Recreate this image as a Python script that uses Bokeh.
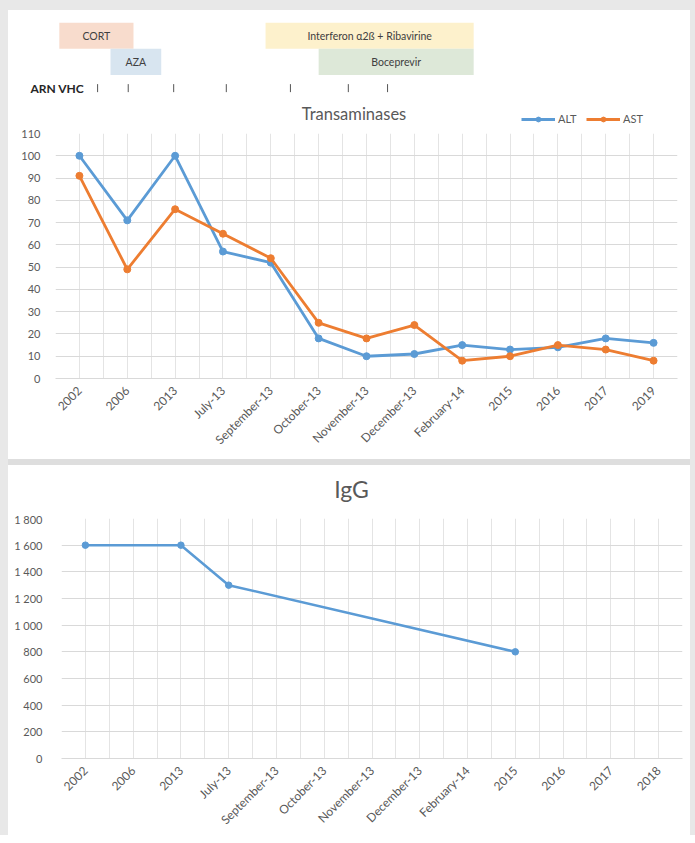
import math
from bokeh.plotting import figure
from bokeh.models import (Range1d, FactorRange, FixedTicker, Legend, Div)
from bokeh.layouts import column, row
from bokeh.core.properties import value
from bokeh.embed import file_html
from bokeh.resources import INLINE

# ---------------- data ----------------
categories_top = ["2002", "2006", "2013", "July-13", "September-13", "October-13",
                  "November-13", "December-13", "February-14", "2015", "2016", "2017", "2019"]
alt_values = [100, 71, 100, 57, 52, 18, 10, 11, 15, 13, 14, 18, 16]
ast_values = [91, 49, 76, 65, 54, 25, 18, 24, 8, 10, 15, 13, 8]
series_names = ["ALT", "AST"]

categories_igg = ["2002", "2006", "2013", "July-13", "September-13", "October-13",
                  "November-13", "December-13", "February-14", "2015", "2016", "2017", "2018"]
igg_values = [1600, None, 1600, 1300, None, None, None, None, None, 800, None, None, None]

# treatments timeline (in category-index units of the transaminase axis)
treatments = ["CORT", "AZA", "Interferon α2ß + Ribavirine", "Boceprevir"]
treat_start = [-0.42, 0.65, 3.89, 5.0]
treat_end = [1.13, 1.71, 8.24, 8.24]
treat_lane = ["row1", "row2", "row1", "row2"]
arn_vhc_times = [0.38, 1.02, 1.97, 3.07, 4.41, 5.62, 6.44]

top_ticks = list(range(0, 111, 10))
igg_ticks = list(range(0, 1801, 200))

# ---------------- styles ----------------
FONT = "Lato"
BLUE = "#5B9BD5"
ORANGE = "#ED7D31"
GRAY_TXT = "#595959"
PAGE_GRAY = "#E8E8E8"
treat_colors = ["#F8DCCD", "#D8E5F0", "#FDF1CC", "#DDE8D8"]

W = 682
BL, BR = 47, 13
n = len(categories_top)
px_per = (W - BL - BR) / n
x0 = -0.5 - BL / px_per
x1 = n - 0.5 + BR / px_per
NAN = float("nan")


def no_align(f):
    if "frame_align" in f.properties():
        f.frame_align = False


# ---------------- header (treatments + chart title + legend) ----------------
h = figure(width=W, height=117, output_backend="svg", toolbar_location=None,
           x_range=Range1d(x0, x1),
           y_range=FactorRange(factors=["title", "ARN", "row2", "row1"], range_padding=0),
           x_axis_location=None, y_axis_location=None,
           min_border_left=0, min_border_right=0, min_border_top=12, min_border_bottom=0)
no_align(h)
h.grid.visible = False
h.outline_line_color = None
h.hbar(y=treat_lane, left=treat_start, right=treat_end, height=1.0,
       fill_color=treat_colors, line_color=None)
mids = [(a + b) / 2 for a, b in zip(treat_start, treat_end)]
h.text(x=mids, y=treat_lane, text=treatments, text_align="center", text_baseline="middle",
       text_font=value(FONT), text_font_size="10.5px", text_color="#404040")
h.text(x=[x0 + 22 / px_per], y=["ARN"], text=["ARN VHC"],
       text_align="left", text_baseline="middle", text_font=value(FONT),
       text_font_size="12px", text_font_style="bold", text_color="#262626")
h.scatter(x=arn_vhc_times, y=["ARN"] * len(arn_vhc_times), marker="dash",
          angle=math.pi / 2, size=8, line_color="#555555", line_width=1)
h.text(x=[x0 + 345.5 / px_per], y=["title"], text=["Transaminases"],
       text_align="center", text_baseline="middle", text_font=value(FONT),
       text_font_size="16.5px", text_color=GRAY_TXT)
# legend proxies (not drawn: NaN position, same styling as chart series)
lg1 = h.line([NAN], ["title"], line_color=BLUE, line_width=2.8)
sg1 = h.scatter([NAN], ["title"], size=7, fill_color=BLUE, line_color=BLUE)
lg2 = h.line([NAN], ["title"], line_color=ORANGE, line_width=2.8)
sg2 = h.scatter([NAN], ["title"], size=7, fill_color=ORANGE, line_color=ORANGE)
legend = Legend(items=[(series_names[0], [lg1, sg1]), (series_names[1], [lg2, sg2])],
                orientation="horizontal", location=(513, 2),
                border_line_color=None, background_fill_alpha=0,
                label_text_font=FONT, label_text_font_size="11px", label_text_color=GRAY_TXT,
                glyph_width=34, glyph_height=12, spacing=8, padding=2, margin=0,
                label_standoff=3)
h.add_layout(legend)


# ---------------- axes styling ----------------
def style_axes(p, cats, yticks, ylabels=None):
    p.outline_line_color = None
    xt = FixedTicker(ticks=list(range(len(cats))),
                     minor_ticks=[i - 0.5 for i in range(len(cats) + 1)])
    p.xaxis.ticker = xt
    p.xaxis.major_label_overrides = {i: c for i, c in enumerate(cats)}
    p.xaxis.major_label_orientation = math.pi / 4
    p.xaxis.major_tick_line_color = None
    p.xaxis.minor_tick_line_color = None
    p.xaxis.axis_line_color = "#D9D9D9"
    p.xaxis.major_label_standoff = 4
    p.xaxis.major_label_text_font = FONT
    p.xaxis.major_label_text_font_size = "12px"
    p.xaxis.major_label_text_color = GRAY_TXT
    p.yaxis.ticker = FixedTicker(ticks=yticks)
    if ylabels:
        p.yaxis.major_label_overrides = ylabels
    p.yaxis.axis_line_color = None
    p.yaxis.major_tick_line_color = None
    p.yaxis.minor_tick_line_color = None
    p.yaxis.major_label_standoff = 9
    p.yaxis.major_label_text_font = FONT
    p.yaxis.major_label_text_font_size = "11px"
    p.yaxis.major_label_text_color = GRAY_TXT
    p.xgrid.grid_line_color = "#E4E4E4"
    p.xgrid.minor_grid_line_color = "#E4E4E4"
    p.ygrid.grid_line_color = "#D9D9D9"


# ---------------- transaminases ----------------
p = figure(width=W, height=332, output_backend="svg", toolbar_location=None,
           x_range=Range1d(-0.5, n - 0.5), y_range=Range1d(0, 110),
           min_border_left=BL, min_border_right=BR, min_border_top=6, min_border_bottom=81)
no_align(p)
style_axes(p, categories_top, top_ticks)

xs = list(range(n))
p.line(xs, alt_values, line_color=BLUE, line_width=2.8)
p.scatter(xs, alt_values, size=7, fill_color=BLUE, line_color=BLUE)
p.line(xs, ast_values, line_color=ORANGE, line_width=2.8)
p.scatter(xs, ast_values, size=7, fill_color=ORANGE, line_color=ORANGE)

sep = Div(width=W, height=6, margin=0, styles={"background-color": "#DEDEDE"})

# ---------------- IgG title strip ----------------
qt = figure(width=W, height=47, output_backend="svg", toolbar_location=None,
            x_range=Range1d(0, W), y_range=FactorRange(factors=["title"], range_padding=0),
            x_axis_location=None, y_axis_location=None,
            min_border_left=0, min_border_right=0, min_border_top=0, min_border_bottom=0)
no_align(qt)
qt.grid.visible = False
qt.outline_line_color = None
qt.text(x=[W / 2 + 2], y=["title"], text=["IgG"], text_align="center",
        text_baseline="middle", text_font=value(FONT), text_font_size="23px",
        text_color=GRAY_TXT)

# ---------------- IgG ----------------
BL2, BR2 = 53, 8
q = figure(width=W, height=323, output_backend="svg", toolbar_location=None,
           x_range=Range1d(-0.5, len(categories_igg) - 0.5), y_range=Range1d(0, 1800),
           min_border_left=BL2, min_border_right=BR2, min_border_top=6, min_border_bottom=77)
no_align(q)
style_axes(q, categories_igg, igg_ticks,
           {v: f"{v:,}".replace(",", " ") for v in igg_ticks})
q.yaxis.major_label_standoff = 13
gx = [i for i, v in enumerate(igg_values) if v is not None]
gy = [v for v in igg_values if v is not None]
q.line(gx, gy, line_color=BLUE, line_width=2.5)
q.scatter(gx, gy, size=6.5, fill_color=BLUE, line_color=BLUE)

top_gray = Div(width=W, height=10, margin=0, styles={"background-color": PAGE_GRAY})
main = column(top_gray, h, p, sep, qt, q, spacing=0, margin=0)
TOTAL_H = 10 + 117 + 332 + 6 + 47 + 323
left_gray = Div(width=8, height=TOTAL_H, margin=0, styles={"background-color": PAGE_GRAY})
right_gray = Div(width=5, height=TOTAL_H, margin=0, styles={"background-color": PAGE_GRAY})
layout = row(left_gray, main, right_gray, spacing=0, margin=0)
open("out.html", "w").write(file_html(layout, INLINE))
